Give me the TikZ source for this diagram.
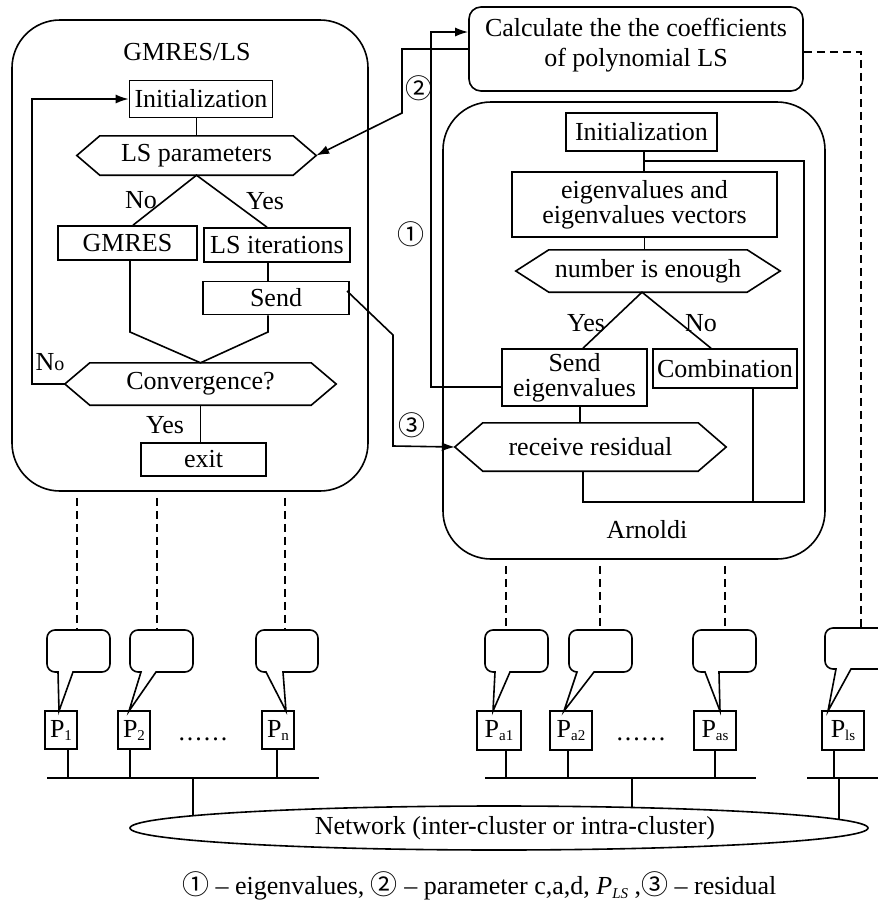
\documentclass[tikz,border=0pt]{standalone}
\usepackage{fontspec}
\setmainfont{Liberation Serif}
\newfontfamily\circfont{Noto Sans CJK SC}
\usetikzlibrary{arrows.meta,shapes.geometric}
\newcommand\Psub[1]{P\raisebox{-3pt}{\fontsize{15}{15}\selectfont #1}}
\newcommand\hexdraw[2]{\draw[ln] (#1.west) -- ([xshift=#2]#1.north west) -- ([xshift=-#2]#1.north east) -- (#1.east) -- ([xshift=-#2]#1.south east) -- ([xshift=#2]#1.south west) -- cycle;}
\newcommand\cnum[1]{{\circfont\fontsize{27}{27}\selectfont #1}}
\begin{document}
\begin{tikzpicture}[x=1pt,y=-1pt,
  every node/.style={font=\fontsize{26}{30}\selectfont, inner sep=0pt},
  ln/.style={line width=1.6pt},
  box/.style={draw, line width=1.6pt, rectangle, inner sep=0pt, align=center},
  hexa/.style={rectangle, inner sep=0pt},
  outer/.style={draw, line width=1.6pt, rounded corners=48pt, inner sep=0pt},
  arr/.style={line width=1.6pt, -{Latex[length=13pt,width=9pt]}},
  dsh/.style={line width=1.6pt, dash pattern=on 8pt off 5pt},
  bub/.style={line width=1.6pt},
  pbox/.style={draw, line width=1.6pt, inner sep=0pt},
  circ/.style={font=\circfont\fontsize{27}{27}\selectfont},
]
\useasboundingbox (0,0) rectangle (878,906);
\clip (0,0) rectangle (878,906);

% ---------------- GMRES/LS ----------------
\node[outer, minimum width=356, minimum height=471] (gm) at (190,255.5) {};
\node (gmlabel) at (187,52) {GMRES/LS};
\node[box, minimum width=143, minimum height=37] (init1) at (201,99) {Initialization};
\node[hexa, minimum width=239, minimum height=39] (lsp) at (196.5,155.5) {LS parameters};
\hexdraw{lsp}{23pt}
\node[box, minimum width=139, minimum height=34] (gmres) at (127.5,243) {GMRES};
\node[box, minimum width=146, minimum height=34] (lsit) at (277,245) {LS iterations};
\node[box, minimum width=146, minimum height=33] (send1) at (276,298) {Send};
\node[hexa, minimum width=271, minimum height=42] (conv) at (200.5,384) {Convergence?};
\hexdraw{conv}{25pt}
\node[box, minimum width=125, minimum height=33] (exit) at (203.5,459.5) {exit};

\coordinate (j1) at (130,332);
\coordinate (j2) at (268,332);
\coordinate (fb) at (32,384);
\draw[ln] (lsp.north) -- (lsp.north |- init1.south);
\draw[ln] ([xshift=5.5pt]gmres.north) -- (lsp.south) -- ([xshift=-10pt]lsit.north);
\draw[ln] (j1 |- gmres.south) -- (j1) -- (conv.north) -- (j2) -- (j2 |- send1.south);
\draw[ln] (j2 |- lsit.south) -- (j2 |- send1.north);
\draw[arr] (conv.west) -- (fb) |- (init1.west);
\draw[ln] (conv.south) -- (conv.south |- exit.north);

\node (no1) at (141,200) {No};
\node (yes1) at (265,201) {Yes};
\node (no2) at (50,362) {N{\fontsize{20}{20}\selectfont o}};
\node (yes2) at (165,425) {Yes};

% ---------------- Calculate ----------------
\node[draw, line width=1.6pt, rounded corners=12pt, minimum width=334, minimum height=84, align=center, text depth=14pt] (calc) at (636,49) {Calculate the the coefficients\\of polynomial LS};

% ---------------- Arnoldi ----------------
\node[outer, minimum width=382, minimum height=457] (arn) at (634,330.5) {};
\node (arnlabel) at (647,530) {Arnoldi};
\node[box, minimum width=151, minimum height=38] (init2) at (641.5,132) {Initialization};
\node[box, minimum width=265, minimum height=65, font=\fontsize{26}{22}\selectfont] (eig) at (644.5,204.5) {eigenvalues and\\eigenvalues vectors};
\node[hexa, minimum width=264, minimum height=42] (nie) at (648,271) {number is enough};
\hexdraw{nie}{33pt}
\node[box, minimum width=145, minimum height=57, font=\fontsize{26}{25}\selectfont] (sendeig) at (574.5,377.5) {Send\\eigenvalues};
\node[box, minimum width=144, minimum height=39] (comb) at (725,368.5) {Combination};
\node[hexa, minimum width=271, minimum height=48] (recv) at (590.5,447) {receive residual};
\hexdraw{recv}{28pt}

\coordinate (c1) at (644,161);
\coordinate (rt) at (804,161);
\coordinate (rb) at (804,502);
\coordinate (r1) at (583,502);
\coordinate (cb) at (753,502);
\draw[ln] (init2.south -| c1) -- (eig.north -| c1);
\draw[ln] (c1) -- (rt) -- (rb) -- (r1) -- (r1 |- recv.south);
\draw[ln] (cb |- comb.south) -- (cb);
\draw[ln] (eig.south) -- (eig.south |- nie.north);
\draw[ln] ([xshift=8.5pt]sendeig.north) -- ([xshift=-6pt]nie.south) -- ([xshift=-14pt]comb.north);
\draw[ln] ([xshift=5.5pt]sendeig.south) -- ([xshift=5.5pt]sendeig.south |- recv.north);
\node (yes3) at (586,323) {Yes};
\node (no3) at (701,323) {No};

% ---------------- Messages ----------------
\coordinate (a1) at (431,387);
\coordinate (a1t) at (431,32);
\draw[arr] (a1 -| sendeig.west) -- (a1) -- (a1t) -- (a1t -| calc.west);
\coordinate (a2t) at (402,49);
\coordinate (a2b) at (402,113);
\draw[arr] (calc.west) -- (a2t) -- (a2b) -- (lsp.east);
\coordinate (a3s) at (347,291);
\coordinate (a3m) at (393,335);
\coordinate (a3b) at (393,446);
\draw[arr] (a3s) -- (a3m) -- (a3b) -- (recv.west);
\node[circ] (m1) at (411,234) {①};
\node[circ] (m2) at (419,88) {②};
\node[circ] (m3) at (412,425) {③};

% ---------------- Bubbles ----------------
\foreach \L/\R/\T/\B/\a/\b/\tx/\ty in {
  47/110/630/672/58/73/59/711,
  130/193/630/672/141/156/129/711,
  256/318/630/672/266/283/286/711,
  485/548/630/672/495/510/493/711,
  569/632/630/672/577/594/564/711,
  693/756/630/672/705/719/720/711,
  825/910/628/669/836/851/828/711}{
  \draw[bub] (\tx,\ty) -- (\a,\B) [rounded corners=8pt] -- (\L,\B) -- (\L,\T) -- (\R,\T) -- (\R,\B) [sharp corners] -- (\b,\B) -- cycle;
}
\coordinate (bt1) at (77,630);
\coordinate (bt2) at (157,630);
\coordinate (bt3) at (285,630);
\coordinate (bt4) at (506,630);
\coordinate (bt5) at (600,630);
\coordinate (bt6) at (725,630);
\coordinate (bt7) at (861,628);
\foreach \c in {bt1,bt2,bt3}{\draw[dsh] (\c |- gm.south) ++(0,6) -- (\c);}
\foreach \c in {bt4,bt5,bt6}{\draw[dsh] (\c |- arn.south) ++(0,6) -- (\c);}
\coordinate (d0) at (861,52);
\draw[dsh] (d0 -| calc.east) -- (d0) -- (bt7);

% ---------------- Processors ----------------
\node[pbox, minimum width=32, minimum height=38] (p1) at (61,730) {\Psub{1}};
\node[pbox, minimum width=32, minimum height=38] (p2) at (134,730) {\Psub{2}};
\node[pbox, minimum width=32, minimum height=38] (pn) at (278,730) {\Psub{n}};
\node[pbox, minimum width=44, minimum height=39] (pa1) at (499,730.5) {\Psub{a1}};
\node[pbox, minimum width=42, minimum height=39] (pa2) at (571,730.5) {\Psub{a2}};
\node[pbox, minimum width=42, minimum height=39] (pas) at (715,730.5) {\Psub{as}};
\node[pbox, minimum width=42, minimum height=39] (pls) at (843,730.5) {\Psub{ls}};
\node[anchor=base] (dots1) at (203,740) {.\kern2pt.\kern2pt.\kern2pt.\kern2pt.\kern2pt.};
\node[anchor=base] (dots2) at (641,740) {.\kern2pt.\kern2pt.\kern2pt.\kern2pt.\kern2pt.};

\coordinate (bus1l) at (47,778);
\coordinate (bus1r) at (319,778);
\coordinate (bus2l) at (485,778);
\coordinate (bus2r) at (756,778);
\coordinate (bus3l) at (807,778);
\coordinate (bus3r) at (890,778);
\draw[ln] (bus1l) -- (bus1r);
\draw[ln] (bus2l) -- (bus2r);
\draw[ln] (bus3l) -- (bus3r);
\draw[ln] ([xshift=7pt]p1.south) -- ([xshift=7pt]p1.south |- bus1l);
\draw[ln] ([xshift=-4pt]p2.south) -- ([xshift=-4pt]p2.south |- bus1l);
\draw[ln] ([xshift=-1pt]pn.south) -- ([xshift=-1pt]pn.south |- bus1l);
\draw[ln] ([xshift=7pt]pa1.south) -- ([xshift=7pt]pa1.south |- bus2l);
\draw[ln] ([xshift=-3pt]pa2.south) -- ([xshift=-3pt]pa2.south |- bus2l);
\draw[ln] (pas.south) -- (pas.south |- bus2l);
\draw[ln] ([xshift=-9pt]pls.south) -- ([xshift=-9pt]pls.south |- bus3l);

% ---------------- Network ----------------
\coordinate (netc) at (499,828);
\coordinate (nd1) at (193,778);
\coordinate (nd2) at (632,778);
\coordinate (nd3) at (839,778);
\draw[ln] (nd1) -- (nd1 |- netc);
\draw[ln] (nd2) -- (nd2 |- netc);
\draw[ln] (nd3) -- (nd3 |- netc);
\node[draw, ellipse, line width=1.6pt, fill=white, minimum width=738, minimum height=44] (net) at (netc) {};
\node (netlabel) at (515,828) {Network (inter-cluster or intra-cluster)};

% ---------------- Legend ----------------
\node[anchor=base west] (legend) at (182,894) {\cnum{①} – eigenvalues, \cnum{②} – parameter c,a,d, \textit{P}\raisebox{-4pt}{\fontsize{15}{15}\selectfont\textit{LS}} ,\cnum{③} – residual};
\end{tikzpicture}
\end{document}
